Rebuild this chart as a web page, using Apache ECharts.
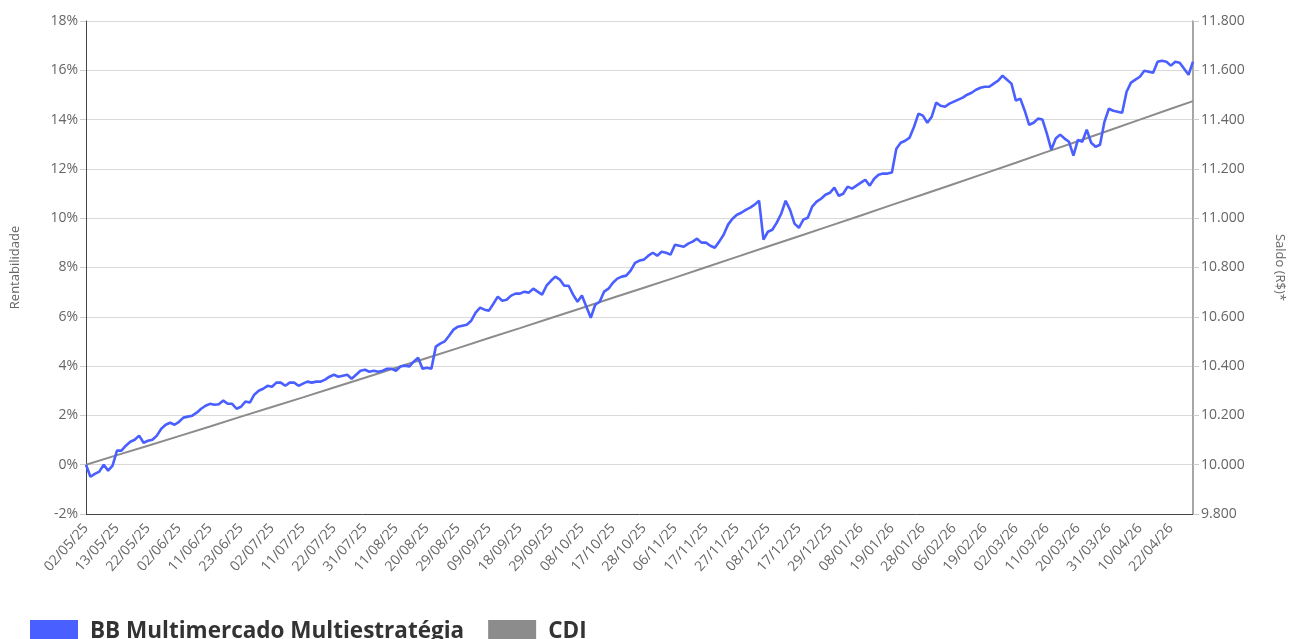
<!DOCTYPE html>
<html>
<head>
<meta charset="utf-8">
<script src="https://cdn.jsdelivr.net/npm/echarts@6/dist/echarts.min.js"></script>
<style>
  html, body { margin: 0; padding: 0; background: #fff; }
  #chart { width: 1289px; height: 639px; }
</style>
</head>
<body>
<div id="chart"></div>
<script>
// dias úteis (B3) de 02/05/25 a 29/04/26
var inicio = '2025-05-02';
var fim = '2026-04-29';
var feriados = ['2025-06-19', '2025-11-20', '2025-12-25', '2026-01-01',
  '2026-02-16', '2026-02-17', '2026-04-03', '2026-04-21'];

// rentabilidade acumulada do fundo (%)
var fundo = [
  0.00, -0.49, -0.37, -0.28, 0.00, -0.24, -0.04, 0.57, 0.57, 0.77,
  0.93, 1.01, 1.18, 0.89, 0.97, 1.01, 1.18, 1.46, 1.62, 1.70,
  1.62, 1.74, 1.91, 1.95, 1.99, 2.11, 2.27, 2.39, 2.47, 2.43,
  2.45, 2.60, 2.47, 2.47, 2.27, 2.35, 2.56, 2.52, 2.84, 3.00,
  3.08, 3.20, 3.16, 3.33, 3.33, 3.20, 3.33, 3.33, 3.20, 3.29,
  3.37, 3.33, 3.37, 3.37, 3.45, 3.57, 3.65, 3.57, 3.61, 3.65,
  3.49, 3.65, 3.81, 3.85, 3.77, 3.81, 3.77, 3.81, 3.89, 3.89,
  3.81, 3.98, 4.02, 3.98, 4.18, 4.34, 3.89, 3.93, 3.89, 4.79,
  4.91, 5.00, 5.23, 5.48, 5.60, 5.64, 5.68, 5.84, 6.17, 6.37,
  6.29, 6.25, 6.53, 6.82, 6.65, 6.69, 6.86, 6.94, 6.94, 7.02,
  6.98, 7.14, 7.02, 6.90, 7.26, 7.46, 7.63, 7.51, 7.26, 7.26,
  6.90, 6.61, 6.86, 6.41, 5.96, 6.49, 6.61, 7.02, 7.14, 7.38,
  7.55, 7.63, 7.67, 7.87, 8.19, 8.28, 8.32, 8.48, 8.60, 8.48,
  8.64, 8.60, 8.52, 8.92, 8.88, 8.84, 8.97, 9.05, 9.17, 9.01,
  9.01, 8.88, 8.80, 9.05, 9.33, 9.74, 9.98, 10.14, 10.22, 10.34,
  10.43, 10.55, 10.71, 9.13, 9.45, 9.53, 9.82, 10.18, 10.71, 10.34,
  9.78, 9.61, 9.94, 10.02, 10.47, 10.67, 10.79, 10.95, 11.03, 11.24,
  10.91, 10.99, 11.28, 11.20, 11.32, 11.44, 11.56, 11.32, 11.60, 11.76,
  11.81, 11.81, 11.85, 12.82, 13.06, 13.14, 13.27, 13.71, 14.24, 14.16,
  13.87, 14.12, 14.69, 14.56, 14.52, 14.65, 14.73, 14.81, 14.89, 15.01,
  15.09, 15.21, 15.29, 15.33, 15.33, 15.46, 15.58, 15.78, 15.62, 15.46,
  14.77, 14.85, 14.36, 13.79, 13.87, 14.04, 14.00, 13.43, 12.78, 13.23,
  13.39, 13.23, 13.10, 12.54, 13.18, 13.10, 13.59, 13.06, 12.90, 12.98,
  13.91, 14.44, 14.36, 14.32, 14.28, 15.13, 15.50, 15.62, 15.74, 15.98,
  15.94, 15.90, 16.35, 16.39, 16.35, 16.19, 16.35, 16.31, 16.06, 15.82,
  16.35
];

// CDI acumulado (%), lido nas datas marcadas no eixo (a cada 7 dias úteis) e no último dia
var cdiIdx = [0, 7, 14, 21, 28, 35, 42, 49, 56, 63, 70, 77, 84, 91, 98, 105, 112, 119,
  126, 133, 140, 147, 154, 161, 168, 175, 182, 189, 196, 203, 210, 217, 224, 231, 238, 245, 250];
var cdiVal = [0.00, 0.39, 0.77, 1.16, 1.55, 1.95, 2.34, 2.73, 3.13, 3.53, 3.93, 4.33, 4.73, 5.14,
  5.54, 5.95, 6.36, 6.77, 7.18, 7.59, 8.01, 8.43, 8.85, 9.27, 9.69, 10.11, 10.54, 10.96, 11.39,
  11.82, 12.25, 12.69, 13.12, 13.56, 14.00, 14.44, 14.75];

// eixos
var yPct = { min: -2, max: 18, step: 2 };
var ySaldo = { min: 9800, max: 11800, step: 200 };

function pad(n) { return n < 10 ? '0' + n : '' + n; }
function diasUteis(a, b, fer) {
  var out = [];
  var d = new Date(a + 'T00:00:00Z');
  var end = new Date(b + 'T00:00:00Z');
  while (d <= end) {
    var iso = d.toISOString().slice(0, 10);
    var wd = d.getUTCDay();
    if (wd !== 0 && wd !== 6 && fer.indexOf(iso) < 0) {
      out.push(pad(d.getUTCDate()) + '/' + pad(d.getUTCMonth() + 1) + '/' + String(d.getUTCFullYear()).slice(2));
    }
    d.setUTCDate(d.getUTCDate() + 1);
  }
  return out;
}

var datas = diasUteis(inicio, fim, feriados);
var cdi = datas.map(function () { return null; });
cdiIdx.forEach(function (idx, k) { cdi[idx] = cdiVal[k]; });

var fonte = '"Open Sans", "Noto Sans", sans-serif';
var chart = echarts.init(document.getElementById('chart'));
chart.setOption({
  animation: false,
  textStyle: { fontFamily: fonte },
  grid: { left: 86, right: 96, top: 21, bottom: 125, outerBoundsMode: 'none' },
  legend: {
    left: 25,
    top: 615,
    icon: 'rect',
    itemWidth: 48,
    itemHeight: 24,
    itemGap: 24,
    textStyle: { fontSize: 22.5, fontWeight: 'bold', color: '#333', fontFamily: fonte, padding: [0, 0, 0, 7] },
    data: ['BB Multimercado Multiestratégia', 'CDI']
  },
  xAxis: {
    type: 'category',
    data: datas,
    boundaryGap: false,
    axisLine: { onZero: false, lineStyle: { color: '#444', width: 1 } },
    axisTick: { show: false },
    axisLabel: { interval: 6, rotate: 48, color: '#666', fontSize: 14, margin: 12 },
    splitLine: { show: false }
  },
  yAxis: [{
    type: 'value',
    min: yPct.min,
    max: yPct.max,
    interval: yPct.step,
    name: 'Rentabilidade',
    nameLocation: 'middle',
    nameGap: 64,
    nameTextStyle: { color: '#666', fontSize: 13 },
    axisLine: { show: true, lineStyle: { color: '#444', width: 1 } },
    axisTick: { show: true, length: 6, lineStyle: { color: '#ccc' } },
    axisLabel: { color: '#666', fontSize: 14, formatter: '{value}%' },
    splitLine: { lineStyle: { color: '#d9d9d9' } }
  }, {
    type: 'value',
    position: 'right',
    min: ySaldo.min,
    max: ySaldo.max,
    interval: ySaldo.step,
    name: 'Saldo (R$)*',
    nameLocation: 'middle',
    nameRotate: -90,
    nameGap: 80,
    nameTextStyle: { color: '#666', fontSize: 13 },
    axisLine: { show: true, lineStyle: { color: '#888', width: 1.5 } },
    axisTick: { show: true, length: 6, lineStyle: { color: '#ccc' } },
    axisLabel: {
      color: '#666', fontSize: 14,
      formatter: function (v) { return (v / 1000).toFixed(3); }
    },
    splitLine: { show: false }
  }],
  series: [{
    name: 'BB Multimercado Multiestratégia',
    type: 'line',
    data: fundo,
    symbol: 'none',
    lineStyle: { color: '#4a5fff', width: 2.6 },
    itemStyle: { color: '#4a5fff' },
    z: 3
  }, {
    name: 'CDI',
    type: 'line',
    data: cdi,
    connectNulls: true,
    symbol: 'none',
    lineStyle: { color: '#8c8c8c', width: 2 },
    itemStyle: { color: '#8c8c8c' },
    z: 2
  }]
});
</script>
</body>
</html>
